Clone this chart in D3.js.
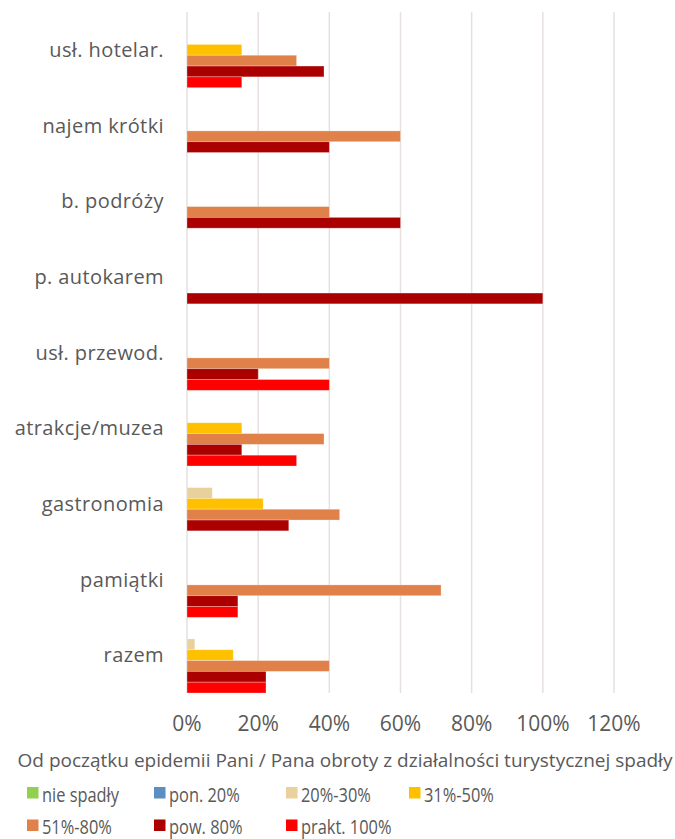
<!DOCTYPE html>
<html>
<head>
<meta charset="utf-8">
<script src="https://cdn.jsdelivr.net/npm/d3@7"></script>
<style>
  html, body { margin: 0; padding: 0; background: #fff; }
  svg { display: block; }
  text { font-family: "Open Sans", "Noto Sans", sans-serif; fill: #595959; }
</style>
</head>
<body>
<svg id="chart" width="675" height="839"></svg>
<script>
const categories = ["usł. hotelar.", "najem krótki", "b. podróży", "p. autokarem", "usł. przewod.", "atrakcje/muzea", "gastronomia", "pamiątki", "razem"];
const seriesNames = ["nie spadły", "pon. 20%", "20%-30%", "31%-50%", "51%-80%", "pow. 80%", "prakt. 100%"];
const seriesColors = ["#92D050", "#5B8EC1", "#E8D19D", "#FFC000", "#DF8149", "#AA0000", "#FF0000"];
const nieSpadly = [0, 0, 0, 0, 0, 0, 0, 0, 0];
const pon20 = [0, 0, 0, 0, 0, 0, 0, 0, 0];
const s20_30 = [0, 0, 0, 0, 0, 0, 7.1, 0, 2.2];
const s31_50 = [15.4, 0, 0, 0, 0, 15.4, 21.4, 0, 13.0];
const s51_80 = [30.8, 60, 40, 0, 40, 38.5, 42.9, 71.4, 40];
const pow80 = [38.5, 40, 60, 100, 20, 15.4, 28.6, 14.3, 22.2];
const prakt100 = [15.4, 0, 0, 0, 40, 30.8, 0, 14.3, 22.2];
const xTicks = [0, 20, 40, 60, 80, 100, 120];
const axisTitle = "Od początku epidemii Pani / Pana obroty z działalności turystycznej spadły";

const seriesValues = [nieSpadly, pon20, s20_30, s31_50, s51_80, pow80, prakt100];

const svg = d3.select("#chart");
const x = d3.scaleLinear().domain([0, 120]).range([187, 614]);
const y = d3.scaleBand().domain(categories).range([12, 693]).padding(0);
const ys = d3.scaleBand().domain(seriesNames).range([0, y.bandwidth()]).padding(0);

// gridlines
svg.append("g").selectAll("line").data(xTicks).join("line")
  .attr("x1", d => x(d)).attr("x2", d => x(d))
  .attr("y1", 12).attr("y2", 693)
  .attr("stroke", "#E6E1DF").attr("stroke-width", 1.5);

// bars
const groups = svg.append("g").selectAll("g").data(categories).join("g")
  .attr("transform", d => `translate(0,${y(d)})`);
groups.selectAll("rect")
  .data((c, ci) => seriesNames.map((s, si) => ({ s, si, v: seriesValues[si][ci] })).filter(d => d.v > 0))
  .join("rect")
  .attr("x", x(0))
  .attr("y", d => ys(d.s))
  .attr("width", d => x(d.v) - x(0))
  .attr("height", ys.bandwidth())
  .attr("fill", d => seriesColors[d.si])
  .attr("stroke", "rgba(255,255,255,0.35)")
  .attr("stroke-width", 0.8);

// category labels
svg.append("g").selectAll("text").data(categories).join("text")
  .attr("x", 164)
  .attr("y", d => y(d) + y.bandwidth() / 2)
  .attr("dy", "0.35em")
  .attr("text-anchor", "end")
  .attr("font-size", 20)
  .attr("letter-spacing", 0.4)
  .text(d => d);

// x tick labels
svg.append("g").selectAll("text").data(xTicks).join("text")
  .attr("x", d => x(d))
  .attr("y", 731)
  .attr("text-anchor", "middle")
  .attr("font-size", 21)
  .text(d => d + "%");

// axis title
svg.append("text")
  .attr("x", 345)
  .attr("y", 767)
  .attr("text-anchor", "middle")
  .attr("font-size", 19)
  .text(axisTitle);

// legend
const legendPos = [[27, 787], [154, 787], [286, 787], [409, 787], [27, 819.5], [154, 819.5], [286, 819.5]];
const lg = svg.append("g").selectAll("g").data(seriesNames).join("g")
  .attr("transform", (d, i) => `translate(${legendPos[i][0]},${legendPos[i][1]})`);
lg.append("rect").attr("x", 0).attr("y", 0).attr("width", 11.5).attr("height", 11.5)
  .attr("fill", (d, i) => seriesColors[i]);
lg.append("text")
  .attr("transform", "translate(15,14.5) scale(0.8,1)")
  .attr("font-size", 20.5).text(d => d);
</script>
</body>
</html>
